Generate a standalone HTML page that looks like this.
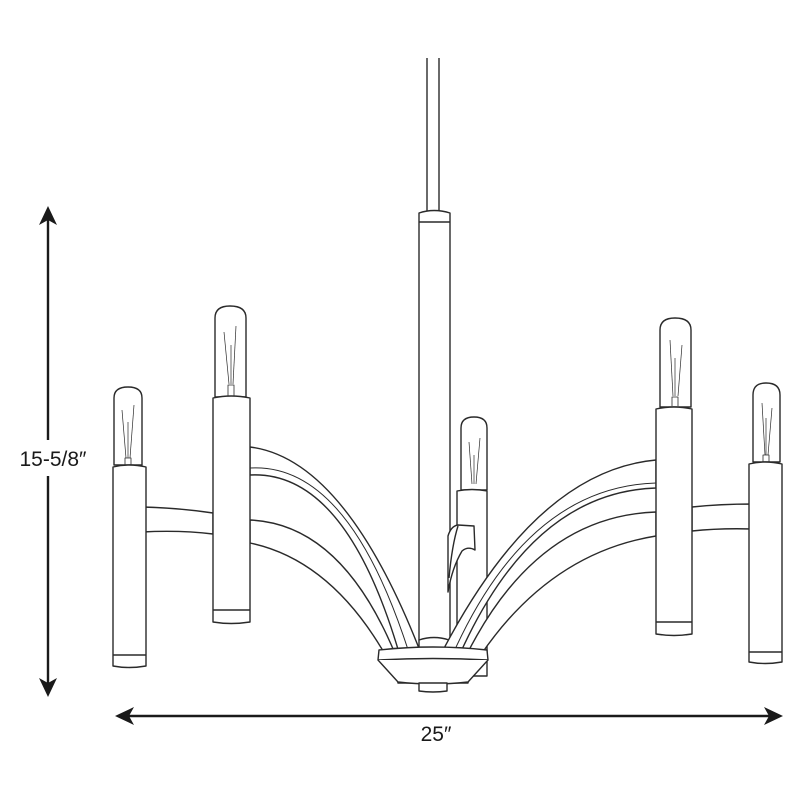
<!DOCTYPE html>
<html><head><meta charset="utf-8"><style>
html,body{margin:0;padding:0;background:#fff;}
svg{display:block;}
</style></head><body>
<svg width="800" height="800" viewBox="0 0 800 800" xmlns="http://www.w3.org/2000/svg">
<g fill="#fff" stroke="#2a2a2a" stroke-width="1.4" stroke-linejoin="round">
<!-- cord -->
<line x1="427" y1="58" x2="427" y2="211"/>
<line x1="439" y1="58" x2="439" y2="211"/>
<!-- rod -->
<path d="M419,213 Q434,208 450,213 L450,640 L419,640 Z"/>
<line x1="419" y1="222" x2="450" y2="222"/>
<path d="M419,640 Q434,635 449,640 L449,648 L419,648 Z"/>

<!-- middle candle (behind) -->
<path d="M461,490 L461,428 Q461,417 474,417 Q487,417 487,428 L487,490 Z"/>
<line x1="469" y1="442" x2="472" y2="484" stroke-width="0.7"/>
<line x1="480" y1="438" x2="476" y2="484" stroke-width="0.7"/>
<line x1="474" y1="455" x2="474" y2="484" stroke-width="0.7"/>
<path d="M457,491 Q472,488 487,491 L487,676 L457,676 Z"/>
<!-- bracket -->
<path d="M448,536 Q451,526 458,525 L474,526 L475,550 Q468,546 462,551 Q452,568 448,592 Z"/>
<path d="M458,526 Q452,545 449,578" fill="none"/>

<!-- left arm 2 -->
<path d="M250,520 Q342,524 396,656 L386,656 Q331,560 250,543 Z"/>
<!-- left arm 1 -->
<path d="M250,447 Q346,459 422,656 L400,656 Q346,470 250,475 Z"/>
<path d="M250,468 Q349,462 410,656" fill="none" stroke-width="1"/>

<!-- right arm 2 -->
<path d="M656,512 Q536,516 466,656 L480,656 Q550,553 656,536 Z"/>
<!-- right arm 1 -->
<path d="M656,460 Q535,471 440,656 L459,656 Q532,492 656,488 Z"/>
<path d="M656,483 Q527,487 452,656" fill="none" stroke-width="1"/>

<!-- base -->
<path d="M395,657 L470,657 L468,683 L398,683 Z"/>
<path d="M379,650 Q433,644 487,650 L488,660 Q433,657 378,660 Z"/>
<path d="M378,660 L398,682 Q433,686 468,682 L488,660"/>
<path d="M419,683 L447,683 L447,691 Q433,693 419,691 Z"/>

<!-- horizontal arms -->
<path d="M142,507 Q180,508 213,513 L213,534 Q180,530 142,532 Z"/>
<path d="M692,507 Q720,504 753,504 L753,529 Q720,528 692,531 Z"/>

<!-- left outer candle -->
<path d="M114,465 L114,398 Q114,387 128,387 Q142,387 142,398 L142,465 Z"/>
<line x1="122" y1="410" x2="126" y2="458" stroke-width="0.7"/>
<line x1="134" y1="405" x2="130" y2="458" stroke-width="0.7"/>
<line x1="128" y1="422" x2="128" y2="458" stroke-width="0.7"/>
<path d="M125,465 L125,458 L131,458 L131,465" fill="none" stroke-width="0.8"/>
<path d="M113,467 Q129,463 146,467 L146,666 Q129,669 113,666 Z"/>
<line x1="113" y1="655" x2="146" y2="655"/>

<!-- left inner candle -->
<path d="M215,397 L215,318 Q215,306 230,306 Q246,306 246,318 L246,397 Z"/>
<line x1="224" y1="332" x2="229" y2="384" stroke-width="0.7"/>
<line x1="236" y1="326" x2="233" y2="384" stroke-width="0.7"/>
<line x1="231" y1="345" x2="231" y2="384" stroke-width="0.7"/>
<path d="M228,396 L228,385 L234,385 L234,396" fill="none" stroke-width="0.8"/>
<path d="M213,398 Q231,394 250,398 L250,622 Q231,625 213,622 Z"/>
<line x1="213" y1="610" x2="250" y2="610"/>

<!-- right inner candle -->
<path d="M660,407 L660,330 Q660,318 675,318 Q691,318 691,330 L691,407 Z"/>
<line x1="670" y1="340" x2="673" y2="396" stroke-width="0.7"/>
<line x1="682" y1="345" x2="678" y2="396" stroke-width="0.7"/>
<line x1="675" y1="358" x2="675" y2="396" stroke-width="0.7"/>
<path d="M672,406 L672,397 L678,397 L678,406" fill="none" stroke-width="0.8"/>
<path d="M656,409 Q674,405 692,409 L692,634 Q674,637 656,634 Z"/>
<line x1="656" y1="622" x2="692" y2="622"/>

<!-- right outer candle -->
<path d="M753,462 L753,395 Q753,383 766,383 Q780,383 780,395 L780,462 Z"/>
<line x1="762" y1="403" x2="765" y2="455" stroke-width="0.7"/>
<line x1="772" y1="408" x2="768" y2="455" stroke-width="0.7"/>
<line x1="766" y1="418" x2="766" y2="455" stroke-width="0.7"/>
<path d="M763,462 L763,455 L769,455 L769,462" fill="none" stroke-width="0.8"/>
<path d="M749,464 Q765,460 782,464 L782,662 Q765,665 749,662 Z"/>
<line x1="749" y1="652" x2="782" y2="652"/>
</g>

<!-- dimensions -->
<g stroke="#1a1a1a" stroke-width="2.4" fill="#1a1a1a">
<line x1="48" y1="215" x2="48" y2="440"/>
<line x1="48" y1="476" x2="48" y2="688"/>
<polygon points="48,206 39,225 48,220 57,225" stroke="none"/>
<polygon points="48,697 39,678 48,683 57,678" stroke="none"/>
<line x1="124" y1="716" x2="774" y2="716"/>
<polygon points="115,716 134,707 129,716 134,725" stroke="none"/>
<polygon points="783,716 764,707 769,716 764,725" stroke="none"/>
</g>
<text x="53" y="466" font-family="Liberation Sans, sans-serif" font-size="21" text-anchor="middle" fill="#1a1a1a">15-5/8″</text>
<text x="436" y="741" font-family="Liberation Sans, sans-serif" font-size="21" text-anchor="middle" fill="#1a1a1a">25″</text>
</svg>
</body></html>
